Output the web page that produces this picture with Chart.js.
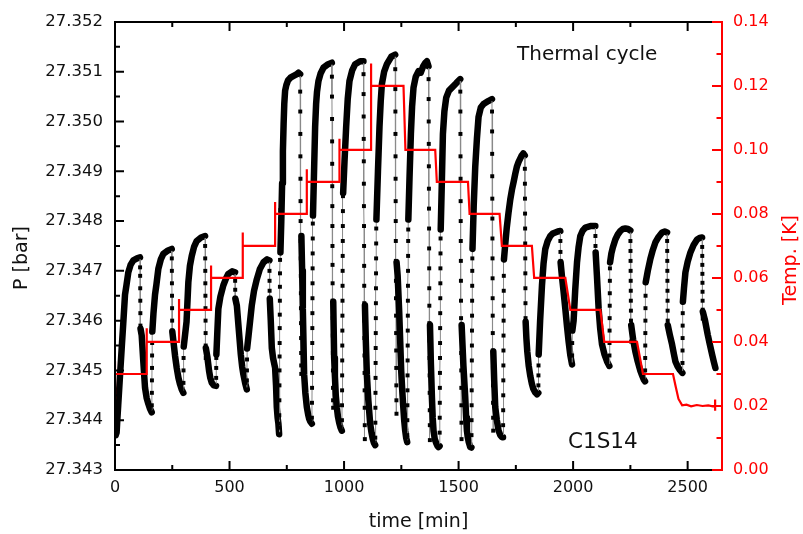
<!DOCTYPE html>
<html><head><meta charset="utf-8">
<script src="https://cdn.jsdelivr.net/npm/chart.js@4.4.0/dist/chart.umd.min.js"></script>
<style>html,body{margin:0;padding:0;background:#fff}canvas{display:block}</style>
</head><body>
<canvas id="c" width="803" height="534"></canvas>
<script>
// ---- tick values ----
const timeTicks = [0, 500, 1000, 1500, 2000, 2500];
const pressureTicks = [27.343, 27.344, 27.345, 27.346, 27.347, 27.348, 27.349, 27.350, 27.351, 27.352];
const tempTicks = [0, 0.02, 0.04, 0.06, 0.08, 0.10, 0.12, 0.14];

// ---- temperature set-point (time [min], T [K]) ----
const temperatureSteps = [
[0,0.022],[0,0.034],[0,0.030],[138.5,0.030],[138.5,0.0443],[138.5,0.040],[279.6,0.040],[279.6,0.0534],[279.6,0.050],
[419.4,0.050],[419.4,0.0639],[419.4,0.060],[557.8,0.060],[557.8,0.0742],[557.8,0.070],[699,0.070],[699,0.0837],[699,0.080],
[837.4,0.080],[837.4,0.094],[837.4,0.090],[980,0.090],[980,0.1035],[980,0.100],[1118,0.100],[1118,0.127],[1118,0.120],
[1259.5,0.120],[1268,0.100],[1398,0.100],[1405,0.090],[1541,0.090],[1548,0.080],[1679,0.080],[1689,0.070],[1820,0.070],
[1830,0.060],[1966,0.060],[1988,0.050],[2119,0.050],[2136,0.040],[2279,0.040],[2305,0.030],[2436,0.030],[2448,0.026],
[2460,0.0222],[2476,0.0202],[2495,0.0204],[2515,0.0199],[2540,0.0203],[2565,0.0200],[2590,0.0202],[2610,0.0199],
[2620,0.0200],[2620,0.022],[2620,0.0185]
];

// ---- pressure readings per thermal cycle (time [min], P [bar]) ----
const cycle01 = [
[0,27.34392],[3,27.34370],[7,27.34375],[10,27.34400],[14,27.34430],[21.8,27.34489],[29.3,27.34545],[36,27.34594],[43.7,27.34652],[50,27.34671],[58.1,27.34697],[68,27.34712],[79.9,27.34721],[96.1,27.34725],[109.2,27.34727],
[109.5,27.34707],[109.8,27.34690],[110.1,27.34665],[110.4,27.34640],[110.7,27.34615],[111.0,27.34590],
[111.4,27.34584],[116.6,27.34570],[123.6,27.34518],[131.1,27.34465],[138,27.34445],[145.5,27.34433],[152,27.34424],[160.3,27.34416]];
const cycle02 = [
[160.7,27.34430],[161.0,27.34455],[161.3,27.34480],[161.6,27.34505],[161.9,27.34530],[162.2,27.34555],[162.5,27.34578],
[162.9,27.34578],[168,27.34615],[174.7,27.34652],[181,27.34673],[189.2,27.34704],[200,27.34723],[211,27.34734],[231.5,27.34741],[247.7,27.34744],
[248.0,27.34725],[248.3,27.34700],[248.6,27.34675],[248.9,27.34650],[249.2,27.34625],[249.5,27.34600],[249.8,27.34580],
[250.2,27.34578],[254.7,27.34560],[262,27.34530],[269.5,27.34505],[277,27.34485],[284,27.34472],[291,27.34462],[298.4,27.34455]];
const cycle03 = [
[298.8,27.34475],[299.1,27.34500],[299.4,27.34525],[299.7,27.34548],
[300.1,27.34548],[306,27.34572],[312.4,27.34598],[320.2,27.34677],[327,27.34710],[335.1,27.34730],[345,27.34748],[356.9,27.34760],[375.7,27.34767],[393.2,27.34770],
[393.5,27.34750],[393.8,27.34725],[394.1,27.34700],[394.4,27.34675],[394.7,27.34650],[395.0,27.34625],[395.3,27.34600],[395.6,27.34575],[395.9,27.34550],[396.2,27.34525],
[396.6,27.34545],[403,27.34528],[410.7,27.34499],[416,27.34485],[422.5,27.34475],[431,27.34470],[441.2,27.34469]];
const cycle04 = [
[441.6,27.34485],[441.9,27.34505],[442.2,27.34525],
[442.6,27.34532],[447,27.34580],[451.3,27.34624],[460,27.34648],[473.1,27.34671],[484,27.34684],[494.9,27.34694],[511.1,27.34699],[524.2,27.34697],
[524.5,27.34680],[524.8,27.34662],[525.1,27.34646],
[525.5,27.34644],[532,27.34630],[540,27.34584],[549.2,27.34532],[555,27.34508],[560.5,27.34492],[568,27.34475],[575.4,27.34462]];
const cycle05 = [
[575.8,27.34480],[576.1,27.34500],[576.4,27.34522],
[576.8,27.34544],[583,27.34570],[590,27.34600],[597.2,27.34631],[607,27.34660],[619,27.34683],[632,27.34703],[647.9,27.34717],[664.1,27.34723],[674.1,27.34721],
[674.4,27.34700],[674.7,27.34680],[675.0,27.34660],[675.3,27.34646],
[675.7,27.34644],[680,27.34600],[684.6,27.34545],[690,27.34525],[699,27.34505],[703,27.34470],[706.4,27.34426],[710,27.34405],[713.4,27.34393],[716.5,27.34372]];
const cycle06 = [
[717.0,27.34385],[717.3,27.34410],[717.6,27.34440],[717.9,27.34470],[718.2,27.34500],[718.5,27.34528],[718.8,27.34555],[719.1,27.34585],[719.4,27.34612],[719.7,27.34640],[720.0,27.34668],[720.3,27.34695],[720.6,27.34722],[720.9,27.34750],[721.2,27.34778],[721.5,27.34805],[721.8,27.34822],
[722.2,27.34737],[726,27.34800],[729.6,27.34876],[733,27.34940],[736.1,27.34995],[739,27.35035],[742.7,27.35062],[748,27.35073],[755.8,27.35083],[766,27.35088],[777.6,27.35091],[790,27.35094],[800.8,27.35098],[808.2,27.35095],
[808.5,27.35060],[808.8,27.35020],[809.1,27.34975],[809.4,27.34930],[809.7,27.34885],[810.0,27.34840],[810.3,27.34800],[810.6,27.34760],[810.9,27.34725],[811.2,27.34690],[811.5,27.34655],[811.8,27.34625],[812.1,27.34595],[812.4,27.34565],[812.7,27.34535],[813.0,27.34510],[813.3,27.34493],
[813.7,27.34770],[817,27.34700],[820,27.34624],[823,27.34555],[825.7,27.34492],[831,27.34455],[837.5,27.34426],[843,27.34412],[847.5,27.34403],[853,27.34397],[859.3,27.34393]];
const cycle07 = [
[859.7,27.34405],[860.0,27.34435],[860.3,27.34465],[860.6,27.34495],[860.9,27.34525],[861.2,27.34555],[861.5,27.34585],[861.8,27.34615],[862.1,27.34645],[862.4,27.34675],[862.7,27.34705],[863.0,27.34735],[863.3,27.34765],[863.6,27.34795],[863.9,27.34822],
[864.3,27.34811],[869,27.34900],[873.7,27.34989],[878,27.35035],[882,27.35060],[888.2,27.35081],[898,27.35097],[910,27.35108],[930.5,27.35115],[946.7,27.35118],
[947.0,27.35090],[947.3,27.35050],[947.6,27.35005],[947.9,27.34960],[948.2,27.34915],[948.5,27.34870],[948.8,27.34830],[949.1,27.34790],[949.4,27.34750],[949.7,27.34712],[950.0,27.34675],[950.3,27.34640],[950.6,27.34605],[950.9,27.34570],[951.2,27.34535],[951.5,27.34500],[951.8,27.34465],[952.1,27.34440],[952.4,27.34425],
[952.8,27.34638],[956.8,27.34525],[960,27.34489],[964,27.34449],[968.5,27.34426],[973,27.34408],[978.6,27.34395],[984,27.34386],[990.4,27.34379]];
const cycle08 = [
[990.8,27.34400],[991.1,27.34430],[991.4,27.34460],[991.7,27.34490],[992.0,27.34520],[992.3,27.34550],[992.6,27.34580],[992.9,27.34610],[993.2,27.34640],[993.5,27.34670],[993.8,27.34700],[994.1,27.34730],[994.4,27.34760],[994.7,27.34790],[995.0,27.34820],[995.3,27.34850],[995.6,27.34876],
[996,27.34856],[1002,27.34920],[1009.2,27.34989],[1016,27.35045],[1023.6,27.35081],[1035,27.35102],[1048.5,27.35115],[1070.3,27.35121],[1084.7,27.35121],
[1085.0,27.35095],[1085.3,27.35055],[1085.6,27.35010],[1085.9,27.34965],[1086.2,27.34920],[1086.5,27.34875],[1086.8,27.34830],[1087.1,27.34790],[1087.4,27.34750],[1087.7,27.34710],[1088.0,27.34670],[1088.3,27.34635],[1088.6,27.34600],[1088.9,27.34565],[1089.2,27.34530],[1089.5,27.34495],[1089.8,27.34460],[1090.1,27.34425],[1090.4,27.34390],[1090.7,27.34362],
[1091.1,27.34631],[1095,27.34560],[1099.6,27.34492],[1106,27.34440],[1114,27.34393],[1120,27.34375],[1125,27.34363],[1130,27.34355],[1135.9,27.34350]];
const cycle09 = [
[1136.3,27.34365],[1136.6,27.34395],[1136.9,27.34425],[1137.2,27.34455],[1137.5,27.34485],[1137.8,27.34515],[1138.1,27.34545],[1138.4,27.34575],[1138.7,27.34605],[1139.0,27.34635],[1139.3,27.34665],[1139.6,27.34695],[1139.9,27.34725],[1140.2,27.34755],[1140.5,27.34785],[1140.8,27.34803],
[1141.2,27.34803],[1148,27.34900],[1154.7,27.34989],[1160,27.35040],[1165.1,27.35075],[1175,27.35100],[1187,27.35115],[1205.8,27.35130],[1223.2,27.35134],
[1223.5,27.35105],[1223.8,27.35065],[1224.1,27.35020],[1224.4,27.34975],[1224.7,27.34930],[1225.0,27.34885],[1225.3,27.34840],[1225.6,27.34800],[1225.9,27.34760],[1226.2,27.34720],[1226.5,27.34680],[1226.8,27.34645],[1227.1,27.34610],[1227.4,27.34575],[1227.7,27.34540],[1228.0,27.34505],[1228.3,27.34470],[1228.6,27.34440],[1228.9,27.34413],
[1229.3,27.34717],[1234,27.34690],[1240.7,27.34618],[1245,27.34560],[1249.5,27.34499],[1254,27.34460],[1258.2,27.34429],[1262.5,27.34400],[1266.9,27.34379],[1271,27.34365],[1275.6,27.34356]];
const cycle10 = [
[1276.0,27.34370],[1276.3,27.34400],[1276.6,27.34430],[1276.9,27.34460],[1277.2,27.34490],[1277.5,27.34520],[1277.8,27.34550],[1278.1,27.34580],[1278.4,27.34610],[1278.7,27.34640],[1279.0,27.34670],[1279.3,27.34700],[1279.6,27.34730],[1279.9,27.34760],[1280.2,27.34783],
[1280.6,27.34803],[1286,27.34890],[1291.8,27.34975],[1297,27.35030],[1303.2,27.35068],[1313,27.35090],[1325,27.35101],[1335,27.35098],[1345.6,27.35111],[1355,27.35118],[1361.7,27.35121],[1368.7,27.35111],
[1369.0,27.35085],[1369.3,27.35045],[1369.6,27.35000],[1369.9,27.34955],[1370.2,27.34910],[1370.5,27.34865],[1370.8,27.34825],[1371.1,27.34785],[1371.4,27.34745],[1371.7,27.34705],[1372.0,27.34665],[1372.3,27.34630],[1372.6,27.34595],[1372.9,27.34560],[1373.2,27.34525],[1373.5,27.34490],[1373.8,27.34455],[1374.1,27.34420],[1374.4,27.34390],[1374.7,27.34360],
[1375.1,27.34591],[1379,27.34515],[1383.6,27.34446],[1387,27.34405],[1390.6,27.34379],[1396,27.34362],[1402.4,27.34354],[1407,27.34349],[1412.4,27.34346],[1417,27.34348]];
const cycle11 = [
[1417.4,27.34375],[1417.7,27.34405],[1418.0,27.34435],[1418.3,27.34465],[1418.6,27.34495],[1418.9,27.34525],[1419.2,27.34555],[1419.5,27.34585],[1419.8,27.34615],[1420.1,27.34645],[1420.4,27.34675],[1420.7,27.34705],[1421.0,27.34735],[1421.3,27.34765],[1421.6,27.34783],
[1422,27.34783],[1427,27.34880],[1431.6,27.34975],[1438,27.35020],[1446,27.35048],[1458,27.35062],[1470.9,27.35068],[1489.7,27.35077],[1507.2,27.35085],
[1507.5,27.35060],[1507.8,27.35020],[1508.1,27.34975],[1508.4,27.34930],[1508.7,27.34885],[1509.0,27.34840],[1509.3,27.34800],[1509.6,27.34760],[1509.9,27.34720],[1510.2,27.34680],[1510.5,27.34640],[1510.8,27.34605],[1511.1,27.34570],[1511.4,27.34535],[1511.7,27.34500],[1512.0,27.34465],[1512.3,27.34430],[1512.6,27.34395],[1512.9,27.34362],
[1513.3,27.34591],[1521,27.34510],[1529,27.34446],[1533,27.34405],[1536.4,27.34379],[1540,27.34366],[1544.3,27.34356],[1550.9,27.34346],[1556,27.34345]];
const cycle12 = [
[1556.4,27.34370],[1556.7,27.34400],[1557.0,27.34430],[1557.3,27.34460],[1557.6,27.34490],[1557.9,27.34520],[1558.2,27.34550],[1558.5,27.34580],[1558.8,27.34610],[1559.1,27.34640],[1559.4,27.34670],[1559.7,27.34700],[1560.0,27.34725],[1560.3,27.34744],
[1560.7,27.34744],[1566,27.34830],[1572.7,27.34909],[1580,27.34965],[1587.1,27.35009],[1597,27.35028],[1609,27.35035],[1629.5,27.35041],[1645.7,27.35045],
[1646.0,27.35020],[1646.3,27.34980],[1646.6,27.34935],[1646.9,27.34890],[1647.2,27.34845],[1647.5,27.34805],[1647.8,27.34765],[1648.1,27.34725],[1648.4,27.34685],[1648.7,27.34645],[1649.0,27.34610],[1649.3,27.34575],[1649.6,27.34540],[1649.9,27.34505],[1650.2,27.34470],[1650.5,27.34435],[1650.8,27.34405],[1651.1,27.34379],
[1651.5,27.34538],[1655.5,27.34480],[1660.1,27.34426],[1667,27.34400],[1674.5,27.34379],[1682,27.34370],[1689.4,27.34366],[1694,27.34366]];
const cycle13 = [
[1694.4,27.34390],[1694.7,27.34420],[1695.0,27.34450],[1695.3,27.34480],[1695.6,27.34510],[1695.9,27.34540],[1696.2,27.34570],[1696.5,27.34600],[1696.8,27.34630],[1697.1,27.34660],[1697.4,27.34690],[1697.7,27.34723],
[1698.1,27.34723],[1704,27.34755],[1710.4,27.34787],[1718,27.34817],[1725.6,27.34843],[1733,27.34863],[1740.9,27.34880],[1747.5,27.34895],[1754.9,27.34910],[1762,27.34919],[1769.4,27.34926],[1776,27.34932],[1782.5,27.34936],[1789,27.34932],
[1789.3,27.34905],[1789.6,27.34875],[1789.9,27.34845],[1790.2,27.34815],[1790.5,27.34785],[1790.8,27.34755],[1791.1,27.34725],[1791.4,27.34695],[1791.7,27.34665],[1792.0,27.34635],[1792.3,27.34605],
[1792.7,27.34598],[1796,27.34565],[1799.9,27.34538],[1806,27.34510],[1813,27.34489],[1820,27.34473],[1826.1,27.34463],[1834,27.34456],[1842.3,27.34452],[1848,27.34455]];
const cycle14 = [
[1848.4,27.34470],[1848.7,27.34490],[1849.0,27.34510],[1849.3,27.34532],
[1849.7,27.34532],[1856,27.34600],[1864.1,27.34671],[1871,27.34715],[1878.5,27.34744],[1889,27.34760],[1900.4,27.34770],[1911,27.34775],[1922.2,27.34777],[1933,27.34779],[1944.1,27.34780],
[1944.4,27.34760],[1944.7,27.34738],[1945.0,27.34720],
[1945.4,27.34717],[1951,27.34690],[1958,27.34660],[1965.9,27.34624],[1973,27.34590],[1980.4,27.34558],[1988,27.34530],[1995.3,27.34512]];
const cycle15 = [
[1995.7,27.34530],[1996.0,27.34555],[1996.3,27.34580],
[1996.7,27.34580],[2002.2,27.34600],[2009,27.34660],[2017,27.34717],[2024,27.34748],[2031.4,27.34770],[2042,27.34781],[2053.3,27.34787],[2075.1,27.34790],[2097,27.34790],
[2097.3,27.34770],[2097.6,27.34750],[2097.9,27.34737],
[2098.3,27.34737],[2104,27.34690],[2111.4,27.34624],[2118,27.34585],[2126.3,27.34552],[2137,27.34532],[2148.1,27.34518],[2158.2,27.34509]];
const cycle16 = [
[2158.6,27.34530],[2158.9,27.34555],[2159.2,27.34580],[2159.5,27.34605],[2159.8,27.34630],[2160.1,27.34655],[2160.4,27.34680],[2160.7,27.34705],[2161.0,27.34717],
[2161.4,27.34717],[2167,27.34735],[2173.4,27.34747],[2184.4,27.34763],[2195,27.34773],[2206.2,27.34780],[2217,27.34784],[2228.1,27.34785],[2240,27.34784],[2249.9,27.34781],
[2250.2,27.34760],[2250.5,27.34740],[2250.8,27.34720],[2251.1,27.34700],[2251.4,27.34680],[2251.7,27.34660],[2252.0,27.34640],[2252.3,27.34620],[2252.6,27.34600],[2252.9,27.34580],[2253.2,27.34558],
[2253.6,27.34591],[2262,27.34562],[2271.7,27.34538],[2282,27.34518],[2293.6,27.34499],[2301,27.34490],[2308,27.34482],[2314,27.34478]];
const cycle17 = [
[2314.4,27.34500],[2314.7,27.34525],[2315.0,27.34550],[2315.3,27.34575],[2315.6,27.34600],[2315.9,27.34625],[2316.2,27.34650],[2316.5,27.34677],
[2316.9,27.34677],[2326,27.34700],[2337.3,27.34724],[2348,27.34742],[2359.1,27.34757],[2373,27.34768],[2388.4,27.34777],[2400,27.34779],[2410.2,27.34777],
[2410.5,27.34760],[2410.8,27.34740],[2411.1,27.34720],[2411.4,27.34700],[2411.7,27.34680],[2412.0,27.34660],[2412.3,27.34640],[2412.6,27.34620],[2412.9,27.34600],
[2413.3,27.34591],[2422,27.34572],[2432.1,27.34552],[2440,27.34533],[2446.5,27.34518],[2455.2,27.34509],[2466,27.34501],[2477,27.34495]];
const cycle18 = [
[2477.4,27.34515],[2477.7,27.34540],[2478.0,27.34565],[2478.3,27.34590],[2478.6,27.34615],[2478.9,27.34638],
[2479.3,27.34638],[2484,27.34665],[2490.3,27.34697],[2500,27.34718],[2512.1,27.34737],[2526,27.34752],[2541.3,27.34763],[2552,27.34766],[2563.2,27.34767],
[2563.5,27.34748],[2563.8,27.34730],[2564.1,27.34712],[2564.4,27.34694],[2564.7,27.34676],[2565.0,27.34658],[2565.3,27.34640],[2565.6,27.34622],[2565.9,27.34604],
[2566.3,27.34618],[2576,27.34600],[2587.6,27.34572],[2597,27.34552],[2606.8,27.34532],[2614,27.34518],[2621.2,27.34505]];

const pressureReadings = [].concat(cycle01, cycle02, cycle03, cycle04, cycle05, cycle06, cycle07, cycle08, cycle09,
  cycle10, cycle11, cycle12, cycle13, cycle14, cycle15, cycle16, cycle17, cycle18);

const X_MIN = 0, X_MAX = 2650;
const FONT = "'DejaVu Sans', sans-serif";

// segments between readings taken less than a minute apart are fast transients (thin line)
function isFast(c) {
  const a = pressureReadings[c.p0DataIndex], b = pressureReadings[c.p1DataIndex];
  return Math.abs(b[0] - a[0]) < 1;
}

function withMinor(major, lo, hi) {
  const step = major[1] - major[0];
  const out = [];
  major.forEach(m => {
    out.push([m, true]);
    const mid = m + step / 2;
    if (mid <= hi + 1e-9) out.push([mid, false]);
  });
  return out.filter(([v]) => v >= lo - 1e-9 && v <= hi + 1e-9);
}

const decor = {
  id: 'decor',
  afterDatasetsDraw(chart) {
    const {ctx, chartArea: a, scales: {x, y, y2}} = chart;
    ctx.save();
    ctx.lineWidth = 2;
    ctx.lineCap = 'butt';
    ctx.lineJoin = 'miter';
    ctx.strokeStyle = '#000';
    ctx.beginPath();
    ctx.moveTo(a.right, a.top); ctx.lineTo(a.left, a.top); ctx.lineTo(a.left, a.bottom); ctx.lineTo(a.right, a.bottom);
    ctx.stroke();
    ctx.beginPath();
    withMinor(timeTicks, X_MIN, X_MAX).forEach(([v, major]) => {
      const p = x.getPixelForValue(v), L = major ? 9 : 5;
      ctx.moveTo(p, a.bottom); ctx.lineTo(p, a.bottom - L);
      ctx.moveTo(p, a.top); ctx.lineTo(p, a.top + L);
    });
    withMinor(pressureTicks, 27.343, 27.352).forEach(([v, major]) => {
      const p = y.getPixelForValue(v), L = major ? 9 : 5;
      ctx.moveTo(a.left, p); ctx.lineTo(a.left + L, p);
    });
    ctx.stroke();
    ctx.strokeStyle = '#ff0000';
    ctx.beginPath();
    ctx.moveTo(a.right, a.top - 1); ctx.lineTo(a.right, a.bottom + 1);
    withMinor(tempTicks, 0, 0.14).forEach(([v, major]) => {
      const p = y2.getPixelForValue(v), L = major ? 10 : 5.5;
      ctx.moveTo(a.right, p); ctx.lineTo(a.right - L, p);
    });
    ctx.stroke();
    ctx.textAlign = 'center';
    ctx.textBaseline = 'middle';
    ctx.fillStyle = '#111';
    ctx.font = '19px ' + FONT;
    ctx.fillText('time [min]', (a.left + a.right) / 2, 522);
    ctx.save(); ctx.translate(22, 258); ctx.rotate(-Math.PI / 2); ctx.fillText('P [bar]', 0, 0); ctx.restore();
    ctx.fillStyle = '#ff0000';
    ctx.save(); ctx.translate(791, 260); ctx.rotate(-Math.PI / 2); ctx.fillText('Temp. [K]', 0, 0); ctx.restore();
    ctx.fillStyle = '#111';
    ctx.textAlign = 'left';
    ctx.textBaseline = 'alphabetic';
    ctx.font = '20px ' + FONT;
    ctx.fillText('Thermal cycle', 517, 60);
    ctx.font = '21.5px ' + FONT;
    ctx.fillText('C1S14', 568, 448);
    ctx.restore();
  }
};

const tickFont = {family: FONT, size: 16};

new Chart(document.getElementById('c'), {
  type: 'line',
  data: {
    datasets: [
      {
        label: 'Temp. [K]',
        data: temperatureSteps.map(([t, k]) => ({x: t, y: k})),
        yAxisID: 'y2',
        borderColor: '#ff0000',
        borderWidth: 2.2,
        pointRadius: 0,
        tension: 0,
        order: 0
      },
      {
        label: 'P [bar]',
        data: pressureReadings.map(([t, p]) => ({x: t, y: p})),
        yAxisID: 'y',
        borderColor: '#000',
        borderWidth: 6.5,
        borderCapStyle: 'round',
        borderJoinStyle: 'round',
        pointStyle: 'rect',
        pointRadius: 2.8,
        pointBackgroundColor: '#000',
        pointBorderWidth: 0,
        tension: 0,
        order: 1,
        segment: {
          borderColor: c => isFast(c) ? '#8a8a8a' : '#000',
          borderWidth: c => isFast(c) ? 1 : 6.5
        }
      }
    ]
  },
  options: {
    responsive: false,
    animation: false,
    devicePixelRatio: 1,
    events: [],
    layout: {padding: {top: 17, left: 0, right: 0, bottom: 0}},
    plugins: {legend: {display: false}, tooltip: {enabled: false}},
    scales: {
      x: {
        type: 'linear', position: 'bottom', min: X_MIN, max: X_MAX, bounds: 'data',
        grid: {display: false, drawTicks: false}, border: {display: false},
        ticks: {font: tickFont, color: '#111', padding: 8, autoSkip: false, maxRotation: 0, callback: v => String(v)},
        afterBuildTicks: s => { s.ticks = timeTicks.map(v => ({value: v})); },
        afterFit: s => { s.height = 64; }
      },
      y: {
        type: 'linear', position: 'left', min: 27.343, max: 27.352, bounds: 'data',
        grid: {display: false, drawTicks: false}, border: {display: false},
        ticks: {font: {family: FONT, size: 16.5}, color: '#111', padding: 12, autoSkip: false, callback: v => Number(v).toFixed(3)},
        afterBuildTicks: s => { s.ticks = pressureTicks.map(v => ({value: v})); },
        afterFit: s => { s.width = 115; }
      },
      y2: {
        type: 'linear', position: 'right', min: 0, max: 0.14, bounds: 'data',
        grid: {display: false, drawTicks: false}, border: {display: false},
        ticks: {font: tickFont, color: '#ff0000', padding: 11, autoSkip: false, callback: v => Number(v).toFixed(2)},
        afterBuildTicks: s => { s.ticks = tempTicks.map(v => ({value: v})); },
        afterFit: s => { s.width = 81; }
      }
    }
  },
  plugins: [decor]
});
</script>
</body></html>
